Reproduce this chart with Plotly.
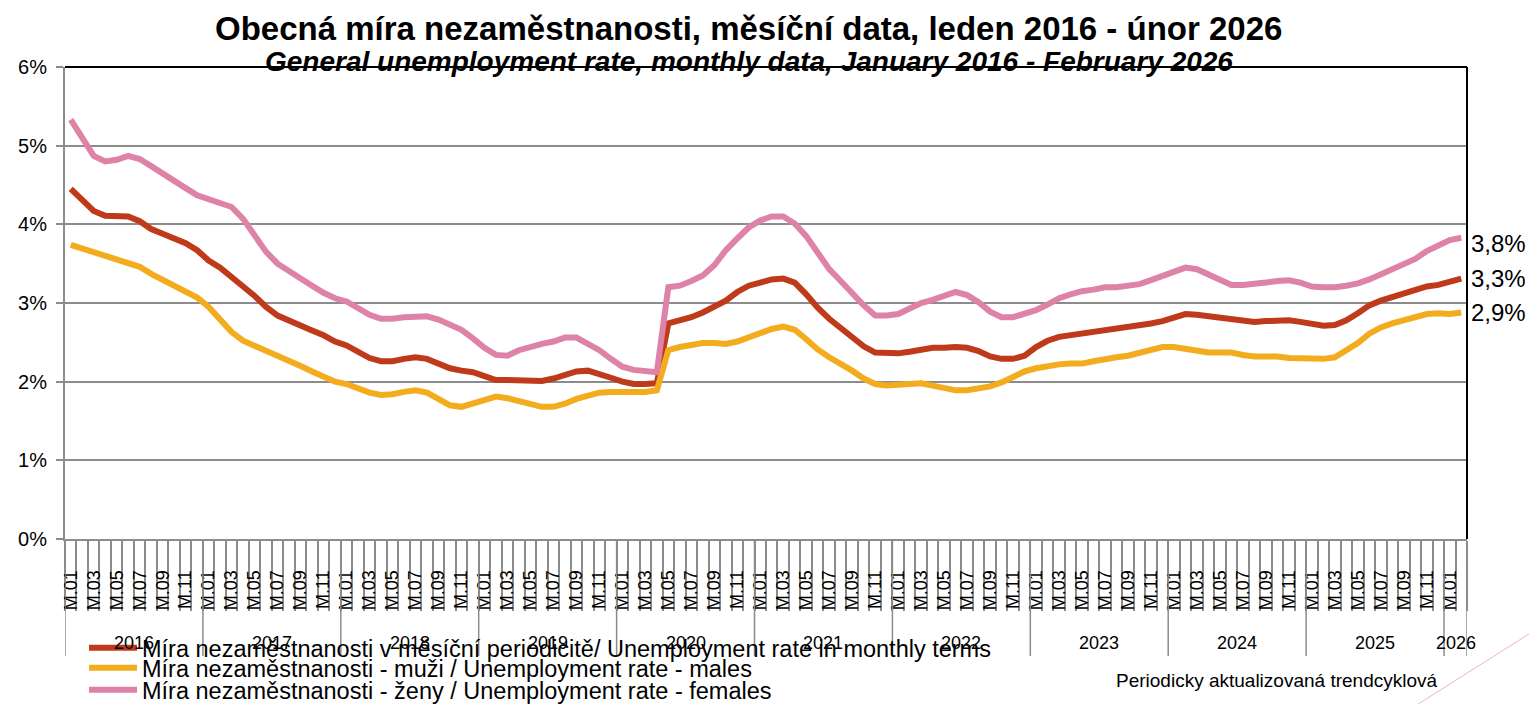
import plotly.graph_objects as go

# ---------------- data ----------------
years = ["2016", "2017", "2018", "2019", "2020", "2021", "2022", "2023", "2024", "2025", "2026"]
months = ["M.01", "M.02", "M.03", "M.04", "M.05", "M.06", "M.07", "M.08", "M.09", "M.10", "M.11", "M.12"]
n_months_last_year = 2  # 2026: January, February

rate_total = [
    4.45, 4.31, 4.17, 4.11, 4.11, 4.10, 4.04, 3.94, 3.88, 3.83, 3.76, 3.67,
    3.54, 3.45, 3.32, 3.21, 3.09, 2.95, 2.84, 2.77, 2.71, 2.65, 2.59, 2.51,
    2.46, 2.37, 2.30, 2.26, 2.26, 2.29, 2.31, 2.29, 2.23, 2.17, 2.14, 2.12,
    2.07, 2.02, 2.02, 2.02, 2.02, 2.01, 2.04, 2.09, 2.13, 2.14, 2.10, 2.05,
    2.00, 1.97, 1.97, 1.98, 2.74, 2.78, 2.82, 2.88, 2.95, 3.03, 3.14, 3.22,
    3.26, 3.30, 3.31, 3.26, 3.11, 2.94, 2.80, 2.69, 2.57, 2.45, 2.37, 2.36,
    2.36, 2.38, 2.41, 2.43, 2.43, 2.44, 2.43, 2.39, 2.32, 2.29, 2.29, 2.33,
    2.44, 2.52, 2.57, 2.59, 2.61, 2.63, 2.66, 2.67, 2.69, 2.71, 2.74, 2.77,
    2.82, 2.86, 2.85, 2.83, 2.81, 2.79, 2.78, 2.76, 2.77, 2.78, 2.78, 2.76,
    2.73, 2.71, 2.72, 2.78, 2.87, 2.97, 3.03, 3.08, 3.13, 3.18, 3.21, 3.23,
    3.27, 3.31,
]
rate_males = [
    3.74, 3.69, 3.65, 3.60, 3.56, 3.51, 3.46, 3.37, 3.29, 3.22, 3.15, 3.07,
    2.95, 2.78, 2.63, 2.52, 2.46, 2.40, 2.34, 2.27, 2.20, 2.13, 2.07, 2.00,
    1.97, 1.91, 1.86, 1.83, 1.84, 1.87, 1.89, 1.86, 1.79, 1.70, 1.68, 1.73,
    1.78, 1.81, 1.79, 1.75, 1.71, 1.68, 1.68, 1.72, 1.78, 1.83, 1.86, 1.87,
    1.87, 1.87, 1.87, 1.89, 2.40, 2.44, 2.47, 2.49, 2.49, 2.48, 2.51, 2.57,
    2.63, 2.67, 2.70, 2.66, 2.54, 2.41, 2.31, 2.23, 2.14, 2.04, 1.97, 1.95,
    1.96, 1.97, 1.98, 1.95, 1.92, 1.89, 1.89, 1.91, 1.94, 1.99, 2.07, 2.13,
    2.17, 2.20, 2.22, 2.23, 2.23, 2.26, 2.29, 2.31, 2.33, 2.37, 2.41, 2.44,
    2.44, 2.42, 2.39, 2.37, 2.37, 2.37, 2.34, 2.32, 2.32, 2.32, 2.30, 2.30,
    2.30, 2.29, 2.31, 2.40, 2.49, 2.61, 2.69, 2.74, 2.78, 2.83, 2.86, 2.87,
    2.86, 2.88,
]
rate_females = [
    5.33, 5.09, 4.87, 4.80, 4.82, 4.87, 4.83, 4.74, 4.64, 4.54, 4.46, 4.37,
    4.32, 4.28, 4.22, 4.07, 3.87, 3.65, 3.50, 3.40, 3.31, 3.22, 3.13, 3.06,
    3.02, 2.94, 2.85, 2.80, 2.80, 2.82, 2.83, 2.83, 2.79, 2.72, 2.66, 2.55,
    2.43, 2.34, 2.33, 2.40, 2.45, 2.48, 2.51, 2.56, 2.56, 2.49, 2.40, 2.29,
    2.19, 2.15, 2.13, 2.12, 3.20, 3.22, 3.28, 3.35, 3.48, 3.67, 3.82, 3.96,
    4.05, 4.10, 4.10, 4.01, 3.85, 3.63, 3.43, 3.28, 3.12, 2.97, 2.84, 2.84,
    2.86, 2.94, 3.00, 3.04, 3.10, 3.14, 3.10, 3.01, 2.89, 2.82, 2.82, 2.86,
    2.91, 2.98, 3.06, 3.11, 3.15, 3.17, 3.20, 3.20, 3.22, 3.24, 3.29, 3.34,
    3.41, 3.45, 3.43, 3.37, 3.29, 3.23, 3.23, 3.24, 3.26, 3.28, 3.29, 3.26,
    3.21, 3.20, 3.20, 3.22, 3.25, 3.30, 3.36, 3.42, 3.48, 3.56, 3.66, 3.74,
    3.80, 3.83,
]

y_tick_values = [0, 1, 2, 3, 4, 5, 6]
y_tick_labels = ["0%", "1%", "2%", "3%", "4%", "5%", "6%"]

series_names = [
    "Míra nezaměstnanosti v měsíční periodicitě/ Unemployment rate in monthly terms",
    "Míra nezaměstnanosti - muži / Unemployment rate - males",
    "Míra nezaměstnanosti - ženy / Unemployment rate - females",
]
series_colors = ["#BE3A1A", "#F2AC1D", "#DE82A8"]
end_label_yshift = [0, 0, -6]

title_cz = "Obecná míra nezaměstnanosti, měsíční data, leden 2016 - únor 2026"
title_en = "General unemployment rate, monthly data, January 2016 - February 2026"
note_text = "Periodicky aktualizovaná trendcyklová"

# ---------------- derived ----------------
month_labels = []
year_of_point = []
for y in years:
    count = 12 if y != years[-1] else n_months_last_year
    for m in months[:count]:
        month_labels.append(m)
        year_of_point.append(y)
idx = list(range(len(month_labels)))

FONT = "Liberation Sans, Arial, sans-serif"
OFF = 8  # page body margin in the browser
W, H = 1537 - OFF, 704 - OFF
# target plot box in screen pixels: left 65, right 1467, top 67, bottom 539
SL, SR, ST, SB = 65, 1467, 67, 539
ML, MT = SL - OFF, ST - OFF
MR, MB = W - (SR - OFF), H - (SB - OFF)
plot_w = SR - SL
plot_h = SB - ST


def py(screen_y):  # screen pixel y -> paper y
    return (SB - screen_y) / plot_h


def px(screen_x):  # screen pixel x -> paper x
    return (screen_x - SL) / plot_w


fig = go.Figure()
series = [rate_total, rate_males, rate_females]
legend_ids = ["legend", "legend2", "legend3"]
for s, name, col, lg in zip(series, series_names, series_colors, legend_ids):
    fig.add_trace(go.Scatter(
        x=idx, y=s, mode="lines", name=name,
        line=dict(color=col, width=6, shape="linear"),
        legend=lg, hoverinfo="y",
    ))

# end labels
for s, ys in zip(series, end_label_yshift):
    fig.add_annotation(x=idx[-1], y=s[-1], xref="x", yref="y",
                       text=f"{s[-1]:.1f}%".replace(".", ","), showarrow=False,
                       xanchor="left", yanchor="middle", xshift=8, yshift=ys,
                       font=dict(family=FONT, size=24, color="black"))

# year group separators & labels
starts = [i for i in idx if i == 0 or year_of_point[i] != year_of_point[i - 1]]
bounds = [i - 0.5 for i in starts] + [idx[-1] + 0.5]
for b in bounds:
    fig.add_shape(type="line", xref="x", yref="paper", x0=b, x1=b, y0=0, y1=py(656),
                  line=dict(color="#8c8c8c", width=1.5), layer="above")
for k, st in enumerate(starts):
    end = bounds[k + 1] - 0.5
    fig.add_annotation(x=(st + end) / 2, y=py(643), xref="x", yref="paper",
                       text=year_of_point[st], showarrow=False,
                       xanchor="center", yanchor="middle",
                       font=dict(family=FONT, size=18, color="black"))

# borders (top & right black)
fig.add_shape(type="line", xref="paper", yref="paper", x0=0, x1=1, y0=1, y1=1,
              line=dict(color="black", width=2), layer="above")
fig.add_shape(type="line", xref="paper", yref="paper", x0=1, x1=1, y0=0, y1=1,
              line=dict(color="black", width=2), layer="above")

# decorative pink stroke at bottom right
fig.add_shape(type="line", xref="paper", yref="paper",
              x0=px(1548), y0=py(622), x1=px(1415), y1=py(706),
              line=dict(color="#EBB3CB", width=1))

# titles
fig.add_annotation(x=px(748), y=py(28), xref="paper", yref="paper", text=f"<b>{title_cz}</b>",
                   showarrow=False, xanchor="center", yanchor="middle",
                   font=dict(family=FONT, size=33, color="black"))
fig.add_annotation(x=px(749), y=py(61), xref="paper", yref="paper", text=f"<b><i>{title_en}</i></b>",
                   showarrow=False, xanchor="center", yanchor="middle",
                   font=dict(family=FONT, size=28, color="black"))
fig.add_annotation(x=px(1276), y=py(680), xref="paper", yref="paper",
                   text=note_text, showarrow=False, xanchor="center", yanchor="middle",
                   font=dict(family=FONT, size=19, color="black"))

legend_style = dict(x=px(84), xanchor="left", yanchor="middle",
                    bgcolor="rgba(0,0,0,0)", borderwidth=0, itemwidth=48,
                    font=dict(family=FONT, size=23.5, color="black"))

fig.update_layout(
    width=W, height=H,
    margin=dict(l=ML, r=MR, t=MT, b=MB, autoexpand=False),
    paper_bgcolor="white", plot_bgcolor="white",
    font=dict(family=FONT, color="black"),
    showlegend=True,
    legend=dict(y=py(648), **legend_style),
    legend2=dict(y=py(668), **legend_style),
    legend3=dict(y=py(690), **legend_style),
    xaxis=dict(
        range=[-0.5, idx[-1] + 0.5],
        tickmode="array",
        tickvals=idx[::2],
        ticktext=month_labels[::2],
        tickangle=-90,
        ticks="outside",
        ticklen=22,
        tickcolor="rgba(0,0,0,0)",
        tickfont=dict(family=FONT, size=18, color="black"),
        showgrid=False, zeroline=False,
        showline=True, linecolor="#8c8c8c", linewidth=2,
        minor=dict(ticks="outside", tickmode="linear", tick0=-0.5, dtick=1,
                   ticklen=70, tickcolor="#8c8c8c", tickwidth=1.5, showgrid=False),
    ),
    yaxis=dict(
        range=[0, 6],
        tickmode="array", tickvals=y_tick_values, ticktext=y_tick_labels,
        ticks="outside", ticklen=7, tickcolor="#8c8c8c", tickwidth=2,
        ticklabelstandoff=5,
        tickfont=dict(family=FONT, size=20, color="black"),
        showgrid=True, gridcolor="#8c8c8c", gridwidth=2,
        zeroline=False, showline=True, linecolor="#8c8c8c", linewidth=2,
    ),
)

fig.write_html("out.html")
